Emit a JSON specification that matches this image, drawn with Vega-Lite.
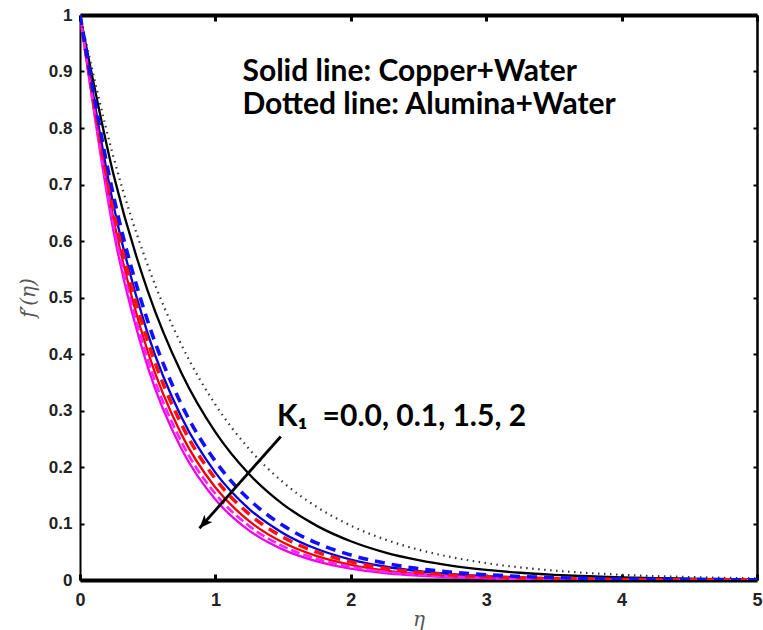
{
  "$schema": "https://vega.github.io/schema/vega-lite/v6.json",
  "width": 677,
  "height": 565,
  "autosize": "none",
  "padding": {"left": 80, "top": 15, "right": 6, "bottom": 50},
  "background": "white",
  "config": {
    "view": {"stroke": null},
    "axis": {"grid": false}
  },
  "datasets": {
    "profiles": [
      {"eta": 0, "cu_0": 1, "al_0": 1, "cu_01": 1, "al_01": 1, "cu_15": 1, "al_15": 1, "cu_2": 1, "al_2": 1},
      {"eta": 0.25, "cu_0": 0.7153, "al_0": 0.7464, "cu_01": 0.6603, "al_01": 0.6771, "cu_15": 0.6360, "al_15": 0.6505, "cu_2": 0.6142, "al_2": 0.6250},
      {"eta": 0.5, "cu_0": 0.5117, "al_0": 0.5571, "cu_01": 0.4361, "al_01": 0.4584, "cu_15": 0.4045, "al_15": 0.4232, "cu_2": 0.3772, "al_2": 0.3906},
      {"eta": 0.75, "cu_0": 0.3660, "al_0": 0.4158, "cu_01": 0.2879, "al_01": 0.3104, "cu_15": 0.2573, "al_15": 0.2753, "cu_2": 0.2317, "al_2": 0.2441},
      {"eta": 1, "cu_0": 0.2618, "al_0": 0.3104, "cu_01": 0.1901, "al_01": 0.2101, "cu_15": 0.1637, "al_15": 0.1791, "cu_2": 0.1423, "al_2": 0.1526},
      {"eta": 1.25, "cu_0": 0.1873, "al_0": 0.2317, "cu_01": 0.1256, "al_01": 0.1423, "cu_15": 0.1041, "al_15": 0.1165, "cu_2": 0.0874, "al_2": 0.0954},
      {"eta": 1.5, "cu_0": 0.1340, "al_0": 0.1729, "cu_01": 0.0829, "al_01": 0.0963, "cu_15": 0.0662, "al_15": 0.0758, "cu_2": 0.0537, "al_2": 0.0596},
      {"eta": 1.75, "cu_0": 0.0958, "al_0": 0.1291, "cu_01": 0.0548, "al_01": 0.0652, "cu_15": 0.0421, "al_15": 0.0493, "cu_2": 0.0330, "al_2": 0.0373},
      {"eta": 2, "cu_0": 0.0686, "al_0": 0.0963, "cu_01": 0.0362, "al_01": 0.0442, "cu_15": 0.0268, "al_15": 0.0321, "cu_2": 0.0202, "al_2": 0.0233},
      {"eta": 2.25, "cu_0": 0.0490, "al_0": 0.0719, "cu_01": 0.0239, "al_01": 0.0299, "cu_15": 0.0170, "al_15": 0.0209, "cu_2": 0.0124, "al_2": 0.0146},
      {"eta": 2.5, "cu_0": 0.0351, "al_0": 0.0537, "cu_01": 0.0158, "al_01": 0.0202, "cu_15": 0.0108, "al_15": 0.0136, "cu_2": 0.0076, "al_2": 0.0091},
      {"eta": 2.75, "cu_0": 0.0251, "al_0": 0.0401, "cu_01": 0.0104, "al_01": 0.0137, "cu_15": 0.0069, "al_15": 0.0088, "cu_2": 0.0047, "al_2": 0.0057},
      {"eta": 3, "cu_0": 0.0180, "al_0": 0.0299, "cu_01": 0.0069, "al_01": 0.0093, "cu_15": 0.0044, "al_15": 0.0057, "cu_2": 0.0029, "al_2": 0.0036},
      {"eta": 3.25, "cu_0": 0.0128, "al_0": 0.0223, "cu_01": 0.0045, "al_01": 0.0063, "cu_15": 0.0028, "al_15": 0.0037, "cu_2": 0.0018, "al_2": 0.0022},
      {"eta": 3.5, "cu_0": 0.0092, "al_0": 0.0167, "cu_01": 0.0030, "al_01": 0.0043, "cu_15": 0.0018, "al_15": 0.0024, "cu_2": 0.0011, "al_2": 0.0014},
      {"eta": 3.75, "cu_0": 0.0066, "al_0": 0.0124, "cu_01": 0.0020, "al_01": 0.0029, "cu_15": 0.0011, "al_15": 0.0016, "cu_2": 0.0007, "al_2": 0.0009},
      {"eta": 4, "cu_0": 0.0047, "al_0": 0.0093, "cu_01": 0.0013, "al_01": 0.0019, "cu_15": 0.0007, "al_15": 0.0010, "cu_2": 0.0004, "al_2": 0.0005},
      {"eta": 4.25, "cu_0": 0.0034, "al_0": 0.0069, "cu_01": 0.0009, "al_01": 0.0013, "cu_15": 0.0005, "al_15": 0.0007, "cu_2": 0.0003, "al_2": 0.0003},
      {"eta": 4.5, "cu_0": 0.0024, "al_0": 0.0052, "cu_01": 0.0006, "al_01": 0.0009, "cu_15": 0.0003, "al_15": 0.0004, "cu_2": 0.0002, "al_2": 0.0002},
      {"eta": 4.75, "cu_0": 0.0017, "al_0": 0.0039, "cu_01": 0.0004, "al_01": 0.0006, "cu_15": 0.0002, "al_15": 0.0003, "cu_2": 0.0001, "al_2": 0.0001},
      {"eta": 5, "cu_0": 0.0012, "al_0": 0.0029, "cu_01": 0.0002, "al_01": 0.0004, "cu_15": 0.0001, "al_15": 0.0002, "cu_2": 0.0001, "al_2": 0.0001}
    ],
    "notes": [
      {"eta": 1.2, "fp": 0.9, "label": "Solid line: Copper+Water"},
      {"eta": 1.2, "fp": 0.841, "label": "Dotted line: Alumina+Water"},
      {"eta": 1.455, "fp": 0.289, "label": "K₁\u2002=0.0, 0.1, 1.5, 2"}
    ],
    "arrow": [
      {"eta": 1.483, "fp": 0.254, "eta2": 0.882, "fp2": 0.0915}
    ]
  },
  "layer": [
    {
      "data": {"name": "profiles"},
      "transform": [
        {"fold": ["cu_0", "cu_01", "cu_15", "cu_2"], "as": ["series", "fp"]}
      ],
      "mark": {"type": "line", "interpolate": "monotone", "clip": true, "strokeWidth": 2.3},
      "encoding": {
        "x": {
          "field": "eta", "type": "quantitative",
          "scale": {"domain": [0, 5], "nice": false},
          "axis": {
            "orient": "bottom", "title": "η", "values": [0, 1, 2, 3, 4, 5],
            "domainColor": "black", "domainWidth": 4,
            "tickColor": "black", "tickWidth": 3, "tickSize": -6,
            "labelFont": "Liberation Sans", "labelFontWeight": "bold", "labelFontSize": 18, "labelColor": "#222",
            "labelPadding": 17, "labelFlush": false,
            "titleFont": "DejaVu Serif", "titleFontStyle": "italic", "titleFontWeight": "normal", "titleFontSize": 20, "titleColor": "#555", "titlePadding": 0
          }
        },
        "y": {
          "field": "fp", "type": "quantitative",
          "scale": {"domain": [0, 1], "nice": false},
          "axis": {
            "orient": "left", "title": "f′(η)", "values": [0, 0.1, 0.2, 0.3, 0.4, 0.5, 0.6, 0.7, 0.8, 0.9, 1], "format": ".1~f",
            "domainColor": "black", "domainWidth": 2,
            "tickColor": "black", "tickWidth": 2, "tickSize": -4,
            "labelFont": "Liberation Sans", "labelFontWeight": "bold", "labelFontSize": 17, "labelColor": "#222",
            "labelPadding": 12, "labelFlush": false,
            "titleFont": "DejaVu Serif", "titleFontStyle": "italic", "titleFontWeight": "normal", "titleFontSize": 20, "titleColor": "#555", "titlePadding": 10
          }
        },
        "color": {
          "field": "series", "type": "nominal", "legend": null,
          "scale": {
            "domain": ["al_0", "cu_0", "al_01", "cu_01", "al_15", "cu_15", "al_2", "cu_2"],
            "range": ["#333333", "#000000", "#1010ff", "#0000e0", "#ff1010", "#f00000", "#ff20ff", "#ee00ee"]
          }
        }
      }
    },
    {
      "data": {"name": "profiles"},
      "transform": [
        {"fold": ["al_0"], "as": ["series", "fp"]}
      ],
      "mark": {"type": "line", "interpolate": "monotone", "clip": true, "strokeWidth": 2.2, "strokeDash": [1.5, 4.5]},
      "encoding": {
        "x": {"field": "eta", "type": "quantitative", "axis": null},
        "y": {"field": "fp", "type": "quantitative", "axis": null},
        "color": {"field": "series", "type": "nominal", "legend": null}
      }
    },
    {
      "data": {"name": "profiles"},
      "transform": [
        {"fold": ["al_2"], "as": ["series", "fp"]}
      ],
      "mark": {"type": "line", "interpolate": "monotone", "clip": true, "strokeWidth": 2.6, "strokeDash": [9, 4]},
      "encoding": {
        "x": {"field": "eta", "type": "quantitative", "axis": null},
        "y": {"field": "fp", "type": "quantitative", "axis": null},
        "color": {"field": "series", "type": "nominal", "legend": null}
      }
    },
    {
      "data": {"name": "profiles"},
      "transform": [
        {"fold": ["al_15", "al_01"], "as": ["series", "fp"]}
      ],
      "mark": {"type": "line", "interpolate": "monotone", "clip": true, "strokeWidth": 3.6, "strokeDash": [10, 7]},
      "encoding": {
        "x": {"field": "eta", "type": "quantitative", "axis": null},
        "y": {"field": "fp", "type": "quantitative", "axis": null},
        "color": {"field": "series", "type": "nominal", "legend": null}
      }
    },
    {
      "data": {"name": "arrow"},
      "mark": {"type": "rule", "color": "black", "strokeWidth": 2.8},
      "encoding": {
        "x": {"field": "eta", "type": "quantitative", "axis": null},
        "y": {"field": "fp", "type": "quantitative", "axis": null},
        "x2": {"field": "eta2"},
        "y2": {"field": "fp2"}
      }
    },
    {
      "data": {"name": "arrow"},
      "mark": {"type": "point", "filled": true, "color": "black", "opacity": 1, "shape": "M0,0 L-0.8,2 L0,1.5 L0.8,2 Z", "size": 180, "angle": 222},
      "encoding": {
        "x": {"field": "eta2", "type": "quantitative", "axis": null},
        "y": {"field": "fp2", "type": "quantitative", "axis": null}
      }
    },
    {
      "data": {"name": "notes"},
      "mark": {"type": "text", "align": "left", "baseline": "middle", "font": "Lato", "fontWeight": "bold", "fontSize": 30, "color": "black"},
      "encoding": {
        "x": {
          "field": "eta", "type": "quantitative",
          "axis": {
            "orient": "top", "title": null, "labels": false, "values": [0, 1, 2, 3, 4, 5],
            "domainColor": "black", "domainWidth": 4,
            "tickColor": "black", "tickWidth": 3, "tickSize": -6
          }
        },
        "y": {
          "field": "fp", "type": "quantitative",
          "axis": {
            "orient": "right", "title": null, "labels": false, "values": [0, 0.1, 0.2, 0.3, 0.4, 0.5, 0.6, 0.7, 0.8, 0.9, 1],
            "domainColor": "black", "domainWidth": 2.5,
            "tickColor": "black", "tickWidth": 2, "tickSize": -4
          }
        },
        "text": {"field": "label"}
      }
    }
  ],
  "resolve": {"axis": {"x": "independent", "y": "independent"}}
}
